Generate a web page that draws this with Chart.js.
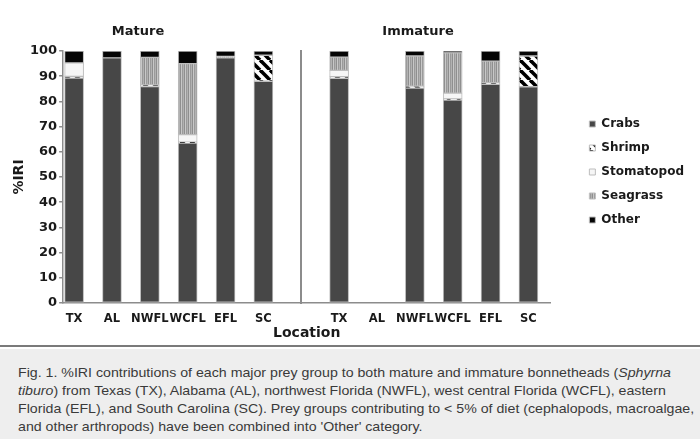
<!DOCTYPE html>
<html>
<head>
<meta charset="utf-8">
<script src="https://cdn.jsdelivr.net/npm/chart.js@4.4.1/dist/chart.umd.min.js"></script>
<style>
body{margin:0;width:700px;height:439px;overflow:hidden;background:#fff;position:relative;font-family:"DejaVu Sans",sans-serif}
#chart{position:absolute;left:0;top:0}
.grp{position:absolute;top:23px;font:bold 13px "DejaVu Sans";color:#1a1a1a;transform:translateX(-50%);white-space:nowrap}
#rule{position:absolute;left:0;top:345px;width:700px;height:2px;background:#7a7a7a}
#cap{position:absolute;left:0;top:349px;width:700px;height:90px;box-sizing:border-box;background:#eeeeee;
  padding:15px 0 0 18px;font:13px "Liberation Sans",Arial,sans-serif;line-height:18px;color:#3a3a3a;white-space:nowrap}
#cap span{display:inline-block;transform:scaleX(1.09);transform-origin:0 0}
</style>
</head>
<body>
<canvas id="chart" width="700" height="345"></canvas>
<div class="grp" style="left:138px">Mature</div>
<div class="grp" style="left:418px">Immature</div>
<div id="rule"></div>
<div id="cap"><span>Fig. 1. %IRI contributions of each major prey group to both mature and immature bonnetheads (<i>Sphyrna</i><br><i>tiburo</i>) from Texas (TX), Alabama (AL), northwest Florida (NWFL), west central Florida (WCFL), eastern<br>Florida (EFL), and South Carolina (SC). Prey groups contributing to &lt; 5% of diet (cephalopods, macroalgae,<br>and other arthropods) have been combined into 'Other' category.</span></div>
<script>
// data: mature TX..SC, then immature TX..SC (no immature AL sample)
const locations = ['TX','AL','NWFL','WCFL','EFL','SC'];
const groups = ['Mature','Immature'];
const crabs      = [89.3, 97.3, 85.9, 63.5, 97.3, 88.0,  89.2, 0, 85.3, 80.5, 86.8, 85.8];
const shrimp     = [ 0.6,  0,    0.6,  0.3,  0,   10.3,   0.6, 0,  0.7,  0.5,  0.6, 12.2];
const stomatopod = [ 5.4,  0,    0,    3.0,  0,    0,     2.5, 0,  0,    2.3,  0,    0];
const seagrass   = [ 0,    0,   11.0, 28.2,  0.5,  0,     5.3, 0, 12.0, 16.0,  8.6,  0];
const other      = [ 4.7,  2.7,  2.5,  5.0,  2.2,  1.7,   2.4, 0,  2.0,  0.7,  4.0,  2.0];
const yTicks = [0,10,20,30,40,50,60,70,80,90,100];

const xLabels = groups.flatMap(() => locations);
// one empty slot between the two groups
const slot = i => i < locations.length ? i : i + 1;
const series = vals => vals.map((v, i) => ({x: slot(i), y: v > 0 ? v : null}));

function hatch(){
  const c = document.createElement('canvas'); c.width = c.height = 10;
  const g = c.getContext('2d');
  g.fillStyle = '#fff'; g.fillRect(0,0,10,10);
  g.strokeStyle = '#000'; g.lineWidth = 3.6;
  [-10,0,10].forEach(o => { g.beginPath(); g.moveTo(o,0); g.lineTo(o+10,10); g.stroke(); });
  return g.createPattern(c,'repeat');
}
function stripes(){
  const c = document.createElement('canvas'); c.width = 4; c.height = 1;
  const g = c.getContext('2d');
  ['#8f8f8f','#c8c8c8','#9a9a9a','#b2b2b2'].forEach((col,i) => { g.fillStyle = col; g.fillRect(i,0,1,1); });
  return g.createPattern(c,'repeat');
}

const ds = (label, vals, bg) => ({
  label, data: series(vals), backgroundColor: bg,
  borderColor: '#bdbdbd', borderWidth: 1, borderSkipped: false, barThickness: 19
});

const bold = (size) => ({family: 'DejaVu Sans', weight: 'bold', size, lineHeight: 1});
const ink = '#1a1a1a', axisGrey = '#8c8c8c';

new Chart(document.getElementById('chart'), {
  type: 'bar',
  data: {
    datasets: [
      ds('Crabs', crabs, '#474747'),
      ds('Shrimp', shrimp, hatch()),
      ds('Stomatopod', stomatopod, '#f6f6f6'),
      ds('Seagrass', seagrass, stripes()),
      ds('Other', other, '#050505')
    ]
  },
  options: {
    responsive: false,
    animation: false,
    layout: {padding: {top: 51, left: 12, right: 6, bottom: 4.5}},
    plugins: {
      tooltip: {enabled: false},
      legend: {
        position: 'right', align: 'start', fullSize: false, maxWidth: 140,
        title: {display: true, text: ' ', font: {size: 1, lineHeight: 1}, padding: {top: 54, bottom: 0}},
        labels: {boxWidth: 6, boxHeight: 6, padding: 12, font: bold(12), color: ink}
      }
    },
    scales: {
      x: {
        type: 'linear', stacked: true, offset: false, min: -0.29, max: 12.58,
        grid: {display: false, drawTicks: false},
        border: {color: axisGrey, width: 1.5},
        afterBuildTicks: axis => { axis.ticks = xLabels.map((_, i) => ({value: slot(i)})); },
        ticks: {
          autoSkip: false, maxRotation: 0, padding: 10, font: bold(11.5), color: ink,
          callback: v => xLabels[v < locations.length ? v : v - 1]
        },
        title: {display: true, text: 'Location', font: bold(14), color: ink, padding: {top: -8, bottom: 0}}
      },
      y: {
        stacked: true, min: 0, max: 100,
        afterBuildTicks: axis => { axis.ticks = yTicks.map(v => ({value: v})); },
        grid: {drawOnChartArea: false, tickLength: 4, color: axisGrey, lineWidth: 1.5},
        border: {color: axisGrey, width: 1.5},
        ticks: {padding: 2, font: bold(13), color: ink},
        title: {display: true, text: '%IRI', font: bold(14), color: ink, padding: {top: 0, bottom: 2}}
      },
      divider: {
        axis: 'y', position: {x: 6}, display: true,
        grid: {display: false}, ticks: {display: false},
        border: {color: axisGrey, width: 2}
      },
      gap: {
        axis: 'y', position: 'right', display: true,
        grid: {display: false}, ticks: {display: false}, border: {display: false},
        afterFit: s => { s.width = 27; }
      }
    }
  }
});
</script>
</body>
</html>
